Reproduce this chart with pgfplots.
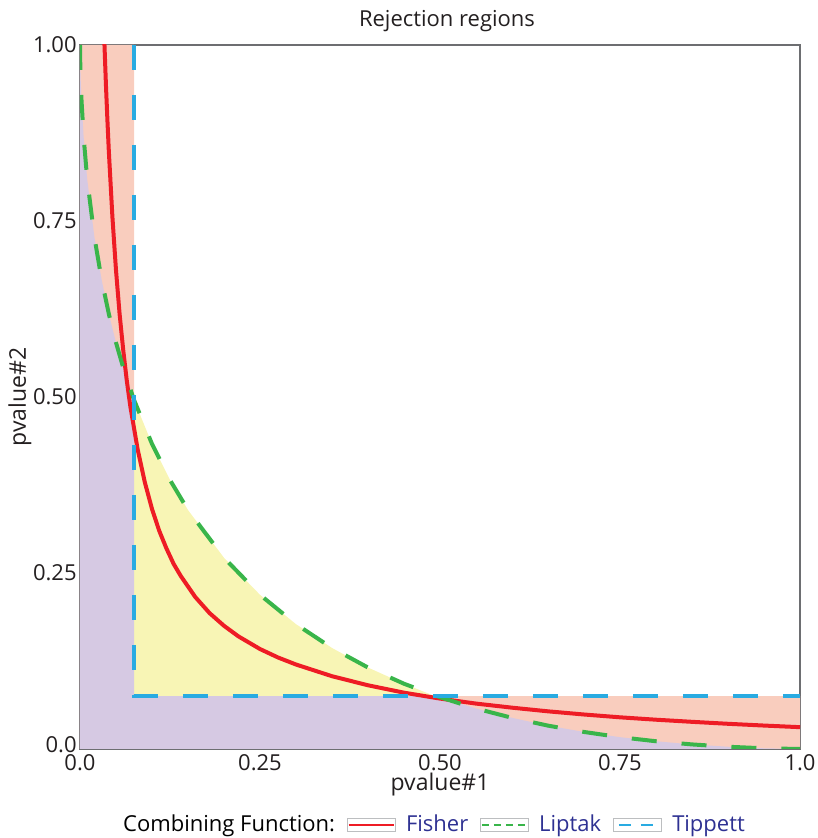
\documentclass[border=0pt]{standalone}
\usepackage{pgfplots}
\pgfplotsset{compat=1.18}
\usepackage{fontspec}
\setmainfont{Open Sans}

\definecolor{regpurple}{HTML}{D6C9E3}
\definecolor{regpink}{HTML}{F9CDBE}
\definecolor{regyellow}{HTML}{F8F5B5}
\definecolor{fisherred}{HTML}{EE1C25}
\definecolor{liptakgreen}{HTML}{39B54A}
\definecolor{tippettblue}{HTML}{29ABE2}
\definecolor{framegray}{HTML}{6D6E71}
\definecolor{keygray}{HTML}{BCBEC0}
\definecolor{legblue}{HTML}{2E3192}
\definecolor{txt}{HTML}{231F20}

\begin{document}
\begin{tikzpicture}
\useasboundingbox (-40pt,-44.5pt) rectangle (368.5pt,374.5pt);
\begin{axis}[
  scale only axis, width=360pt, height=352pt,
  xmin=0, xmax=1, ymin=0, ymax=1,
  axis line style={draw=framegray, line width=1pt},
  major tick length=0pt,
  xtick={0,0.25,0.5,0.75,1},
  xticklabels={0.0,0.25,0.50,0.75,1.0},
  ytick={0,0.25,0.5,0.75,1},
  yticklabels={\raisebox{4pt}{0.0},0.25,0.50,0.75,1.00},
  tick label style={font=\fontsize{11}{12}\selectfont, text=txt},
  yticklabel style={inner sep=1.5pt},
  xticklabel style={inner sep=1.5pt, yshift=-1pt},
  title={Rejection regions},
  every axis title/.style={at={([xshift=3.5pt,yshift=12pt]axis description cs:0.5,1)}, anchor=center, font=\fontsize{11}{13}\selectfont, text=txt},
  xlabel={pvalue\#1},
  ylabel={pvalue\#2},
  every axis x label/.style={at={([yshift=-18pt]axis description cs:0.5,0)}, anchor=center, inner sep=0pt, font=\fontsize{11.5}{13}\selectfont, text=txt},
  every axis y label/.style={at={([xshift=-30pt]axis description cs:0,0.5)}, rotate=90, anchor=center, inner sep=0pt, font=\fontsize{11.5}{13}\selectfont, text=txt},
  legend image code/.code={
    \draw[draw=keygray, line width=0.5pt, solid, fill=white] (0pt,-3.2pt) rectangle (24pt,3.2pt);
    \draw[#1] (0.6pt,0pt) -- (23.4pt,0pt);},
  legend columns=4,
  legend style={draw=none, fill=none, at={(0.4875,0)}, anchor=center, yshift=-38pt,
    font=\fontsize{11}{13}\selectfont, inner sep=0pt,
    /tikz/every odd column/.append style={column sep=3pt},
    /tikz/every even column/.append style={column sep=4pt}},
  clip=true,
]
% Tippett rejection region (L shape)
\addplot[forget plot, fill=regpink, draw=none] coordinates {
  (0,0) (0,1) (0.075,1) (0.075,0.075) (1,0.075) (1,0)};
% Liptak only
\addplot[forget plot, fill=regyellow, draw=none] coordinates {
  (0.075,0.075) (0.075,0.496) (0.1,0.4333) (0.125,0.3821) (0.15,0.3394)
  (0.2,0.2716) (0.25,0.219) (0.3,0.1773) (0.35,0.1435) (0.4,0.1157)
  (0.45,0.0927) (0.493,0.075)};
% both
\addplot[forget plot, fill=regpurple, draw=none] coordinates {
  (0,0) (0,1) (0.00001,0.9976) (0.0001,0.9884) (0.0005,0.9672) (0.001,0.9495)
  (0.002,0.9234) (0.005,0.8699) (0.01,0.8095) (0.02,0.7271) (0.03,0.6668)
  (0.04,0.6183) (0.05,0.5773) (0.06,0.5418) (0.075,0.496) (0.075,0.075)
  (0.493,0.075) (0.5,0.0735) (0.55,0.0575) (0.6,0.0443) (0.65,0.0332)
  (0.7,0.0242) (0.75,0.0168) (0.8,0.011) (0.85,0.0065) (0.9,0.0032)
  (0.95,0.001) (1,0)};

% Fisher
\addplot[forget plot, fisherred, line width=2pt] coordinates {
  (0.033,1.03) (0.034,1.0) (0.036,0.944) (0.038,0.895) (0.04,0.85) (0.045,0.756)
  (0.05,0.68) (0.055,0.618) (0.06,0.567) (0.065,0.523) (0.07,0.486) (0.08,0.426)
  (0.09,0.379) (0.1,0.341) (0.11,0.31) (0.12,0.285) (0.13,0.263) (0.14,0.2457)
  (0.16,0.216) (0.18,0.193) (0.2,0.175) (0.22,0.16) (0.25,0.142) (0.275,0.13)
  (0.3,0.12) (0.35,0.1034) (0.4,0.0905) (0.45,0.080) (0.5,0.0716) (0.55,0.0645)
  (0.6,0.0587) (0.65,0.0535) (0.7,0.049) (0.75,0.045) (0.8,0.0416) (0.85,0.0386)
  (0.9,0.0358) (0.95,0.0333) (1,0.031)};
% Liptak
\addplot[forget plot, liptakgreen, line width=2pt, dash pattern=on 12.5pt off 12.5pt] coordinates {
  (0,1) (0.00001,0.9976) (0.0001,0.9884) (0.0005,0.9672) (0.001,0.9495)
  (0.002,0.9234) (0.005,0.8699) (0.01,0.8095) (0.02,0.7271) (0.03,0.6668)
  (0.04,0.6183) (0.05,0.5773) (0.06,0.5418) (0.075,0.496) (0.1,0.4333)
  (0.125,0.3821) (0.15,0.3394) (0.2,0.2716) (0.25,0.219) (0.3,0.1773)
  (0.35,0.1435) (0.4,0.1157) (0.45,0.0927) (0.5,0.0735) (0.55,0.0575)
  (0.6,0.0443) (0.65,0.0332) (0.7,0.0242) (0.75,0.0168) (0.8,0.011)
  (0.85,0.0065) (0.9,0.0032) (0.95,0.001) (1,0)};
% Tippett
\addplot[forget plot, tippettblue, line width=2pt, dash pattern=on 12.5pt off 12.5pt] coordinates {
  (0.075,1) (0.075,0.075) (1,0.075)};

\addlegendimage{empty legend}
\addlegendentry{Combining Function:}
\addlegendimage{draw=fisherred, line width=1.2pt}
\addlegendentry{\textcolor{legblue}{Fisher}}
\addlegendimage{draw=liptakgreen, line width=1.2pt, dash pattern=on 3.5pt off 2.5pt}
\addlegendentry{\textcolor{legblue}{Liptak}}
\addlegendimage{draw=tippettblue, line width=1.2pt, dash pattern=on 6pt off 5pt, dash phase=9pt}
\addlegendentry{\textcolor{legblue}{Tippett}}
\end{axis}
\end{tikzpicture}
\end{document}
